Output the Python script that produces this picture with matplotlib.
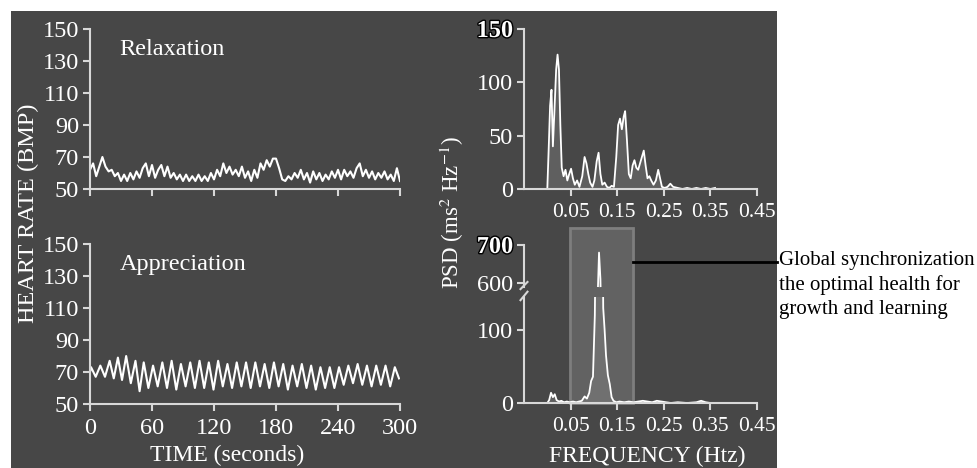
import numpy as np
import matplotlib.pyplot as plt
from matplotlib.patches import Rectangle
from matplotlib.lines import Line2D
import matplotlib.patheffects as pe

plt.rcParams['font.family'] = ['Liberation Serif', 'DejaVu Serif']

W, H = 977, 468
BG = '#474747'
AXC = '#d8d8d8'

# heart rate, relaxation (sampled every 3 s)
relax_t = list(range(0, 301, 3))
relax_hr = [62, 66, 58, 64, 70, 64, 61, 62, 58, 60,
            55, 59, 55, 60, 56, 61, 57, 63, 66, 58,
            65, 57, 62, 65, 58, 64, 57, 60, 56, 59,
            55, 59, 55, 58, 55, 59, 55, 58, 55, 60,
            56, 62, 58, 66, 60, 64, 59, 62, 58, 64,
            57, 61, 55, 62, 57, 66, 62, 68, 64, 69,
            69, 63, 56, 55, 58, 56, 60, 57, 62, 56,
            60, 54, 61, 56, 60, 55, 59, 56, 61, 57,
            62, 56, 62, 58, 61, 57, 63, 66, 58, 62,
            57, 61, 56, 60, 57, 61, 56, 59, 55, 63,
            55]

# heart rate, appreciation (peaks and troughs)
appr_t = [0, 1, 5.5, 10, 14.5, 19, 23, 27, 31, 35,
          39.5, 44, 48, 52, 56.5, 61, 65.5, 70, 74.5, 79,
          83.5, 88, 92.5, 97, 101.5, 106, 110.5, 115, 119.5, 124,
          128.5, 133, 137.5, 142, 146.5, 151, 155.5, 160, 164.5, 169,
          173.5, 178, 182.5, 187, 191.5, 196, 200.5, 205, 209.5, 214,
          218.5, 223, 227.5, 232, 236.5, 241, 245.5, 250, 254.5, 259,
          263.5, 268, 272.5, 277, 281.5, 286, 290.5, 295, 299]
appr_hr = [70, 73, 67, 74, 67, 77, 66, 79, 65, 80,
           63, 77, 58, 76, 60, 74, 61, 76, 60, 77,
           59, 75, 61, 76, 60, 77, 60, 76, 59, 77,
           61, 75, 60, 76, 61, 76, 60, 76, 61, 75,
           60, 76, 61, 75, 59, 74, 61, 75, 60, 74,
           59, 73, 60, 73, 60, 73, 62, 74, 63, 75,
           62, 74, 61, 74, 62, 74, 61, 73, 66]

# power spectra
relax_f = [0.000, 0.003, 0.006, 0.009, 0.012, 0.015, 0.019, 0.022, 0.025, 0.028,
           0.031, 0.035, 0.039, 0.043, 0.047, 0.051, 0.055, 0.059, 0.064, 0.069,
           0.075, 0.080, 0.084, 0.088, 0.092, 0.097, 0.101, 0.106, 0.110, 0.114,
           0.118, 0.123, 0.128, 0.133, 0.138, 0.143, 0.148, 0.152, 0.156, 0.160,
           0.164, 0.167, 0.171, 0.175, 0.179, 0.183, 0.187, 0.191, 0.195, 0.199,
           0.203, 0.207, 0.211, 0.215, 0.219, 0.223, 0.228, 0.233, 0.238, 0.242,
           0.246, 0.252, 0.258, 0.264, 0.270, 0.280, 0.290, 0.300, 0.310, 0.320,
           0.330, 0.340, 0.350, 0.360]
relax_psd = [0, 38, 78, 93, 40, 70, 112, 126, 112, 60,
             20, 12, 18, 8, 14, 19, 10, 4, 8, 2,
             12, 30, 24, 14, 6, 2, 8, 26, 34, 14,
             4, 6, 2, 1, 3, 2, 30, 60, 66, 56,
             68, 73, 45, 14, 10, 22, 27, 20, 18, 24,
             30, 36, 22, 10, 12, 8, 4, 8, 18, 10,
             2, 1, 2, 5, 2, 1, 0, 1, 0, 1,
             0, 1, 0, 1]

appr_f = [0.000, 0.004, 0.008, 0.012, 0.016, 0.020, 0.025, 0.030, 0.036, 0.042,
          0.048, 0.055, 0.062, 0.068, 0.074, 0.080, 0.085, 0.090, 0.094, 0.098,
          0.102, 0.105, 0.108, 0.111, 0.114, 0.117, 0.120, 0.123, 0.126, 0.130,
          0.134, 0.138, 0.142, 0.148, 0.155, 0.165, 0.175, 0.185, 0.195, 0.205,
          0.215, 0.225, 0.235, 0.245, 0.255, 0.265, 0.280, 0.300, 0.320, 0.330,
          0.340, 0.350]
appr_psd = [0, 4, 14, 8, 12, 4, 2, 3, 1, 2,
            1, 2, 1, 2, 3, 9, 6, 14, 30, 36,
            120, 300, 560, 680, 610, 420, 130, 100, 65, 38,
            26, 8, 3, 1, 2, 1, 2, 1, 2, 3,
            2, 1, 3, 2, 1, 0, 1, 0, 1, 3,
            1, 0]

hr_ticks = [50, 70, 90, 110, 130, 150]
time_ticks = [0, 60, 120, 180, 240, 300]
freq_ticks = [0.05, 0.15, 0.25, 0.35, 0.45]
band = (0.049, 0.184)   # highlighted coherence band
note = "Global synchronization\nthe optimal health for\ngrowth and learning"

TICK = 17.5
FTICK = 15.5
LAB = 17
PANEL_R = 777   # right edge of the dark panel, px


def px(l, t, r, b):
    return [l / W, 1 - b / H, (r - l) / W, (b - t) / H]


def style(ax, bottom=True):
    ax.set_facecolor('none')
    for s in ['top', 'right']:
        ax.spines[s].set_visible(False)
    for s in ['left', 'bottom']:
        ax.spines[s].set_color(AXC)
        ax.spines[s].set_linewidth(1.5)
    if not bottom:
        ax.spines['bottom'].set_visible(False)
        ax.set_xticks([])
    ax.tick_params(colors=AXC, labelcolor='white', labelsize=TICK,
                   length=5, width=1.5, direction='out', pad=3)
    ax.tick_params(axis='x', pad=5)


def outline(lbl):
    lbl.set_path_effects([pe.withStroke(linewidth=2, foreground='black')])
    lbl.set_fontweight('bold')


fig = plt.figure(figsize=(W / 100, H / 100), dpi=100)
fig.patch.set_facecolor('white')
fig.patches.append(Rectangle((11 / W, 0), (PANEL_R - 11) / W, 457 / H,
                             transform=fig.transFigure,
                             facecolor=BG, edgecolor='none', zorder=-10))

# left: heart rate
ax1 = fig.add_axes(px(90, 29, 400, 189))
ax2 = fig.add_axes(px(90, 244, 400, 404))
for ax, t, hr, name in [(ax1, relax_t, relax_hr, 'Relaxation'),
                        (ax2, appr_t, appr_hr, 'Appreciation')]:
    style(ax)
    ax.plot(t, hr, color='white', lw=1.5)
    ax.set_xlim(0, 300)
    ax.set_ylim(50, 150)
    ax.set_yticks(hr_ticks)
    ax.set_xticks(time_ticks)
    ax.text(0.095, 0.87, name, transform=ax.transAxes, color='white',
            fontsize=17.5, va='center')
ax1.set_xticklabels([])
fig.text(227 / W, 1 - 455 / H, 'TIME (seconds)', color='white', fontsize=LAB,
         ha='center', va='center')
fig.text(28 / W, 1 - 213 / H, 'HEART RATE (BMP)', rotation=90, color='white',
         fontsize=17.5, ha='center', va='center')

# right top: relaxation spectrum
ax3 = fig.add_axes(px(524, 29, 757, 189))
style(ax3)
ax3.fill_between(relax_f, relax_psd, color='#8c8c8c', alpha=0.35, lw=0)
ax3.plot(relax_f, relax_psd, color='white', lw=1.3)
ax3.set_xlim(-0.05, 0.45)
ax3.set_ylim(0, 150)
ax3.set_yticks([0, 50, 100, 150])
ax3.set_xticks(freq_ticks)
ax3.set_xticklabels([f'{v:.2f}' for v in freq_ticks], fontsize=FTICK)
outline(ax3.get_yticklabels()[-1])

# right bottom: appreciation spectrum with broken axis
ax4 = fig.add_axes(px(524, 297, 757, 403))
ax5 = fig.add_axes(px(524, 245, 757, 287))
style(ax4)
style(ax5, bottom=False)
for ax in (ax4, ax5):
    ax.fill_between(appr_f, appr_psd, color='#8c8c8c', alpha=0.35, lw=0)
    ax.plot(appr_f, appr_psd, color='white', lw=1.3)
    ax.set_xlim(-0.05, 0.45)
ax4.set_ylim(0, 145)
ax5.set_ylim(589.5, 700)
ax4.set_yticks([0, 100])
ax5.set_yticks([600, 700])
ax4.set_xticks(freq_ticks)
ax4.set_xticklabels([f'{v:.2f}' for v in freq_ticks], fontsize=FTICK)
outline(ax5.get_yticklabels()[-1])
fig.text(647 / W, 1 - 456 / H, 'FREQUENCY (Htz)', color='white', fontsize=LAB,
         ha='center', va='center')

# band highlight, placed from the lower axis' data coordinates
inv = fig.transFigure.inverted()
fx0, fy0 = inv.transform(ax4.transData.transform((band[0], 0)))
fx1, _ = inv.transform(ax4.transData.transform((band[1], 0)))
fig.patches.append(Rectangle((fx0, fy0), fx1 - fx0, (1 - 228 / H) - fy0,
                             transform=fig.transFigure, facecolor='#626262',
                             edgecolor='#7e7e7e', lw=2, zorder=-5))

# break marks on the y axis
kw = dict(color=AXC, lw=1.5, clip_on=False)
ax5.plot([-0.015, 0.015], [-0.05, 0.12], transform=ax5.transAxes, **kw)
ax4.plot([-0.015, 0.015], [0.97, 1.05], transform=ax4.transAxes, **kw)

fig.text(452 / W, 1 - 213 / H, 'PSD (ms$^2$ Hz$^{-1}$)', rotation=90, color='white',
         fontsize=16.5, ha='center', va='center', math_fontfamily='stix')

# callout line and note
ly = 1 - 262 / H
fig.add_artist(Line2D([fx1, PANEL_R / W], [ly, ly], transform=fig.transFigure,
                      color='black', lw=2))
fig.text((PANEL_R + 2) / W, 1 - 251 / H, note, color='black', fontsize=15, va='top',
         ha='left', linespacing=1.35)

plt.savefig('out.png', dpi=100, facecolor=fig.get_facecolor())
